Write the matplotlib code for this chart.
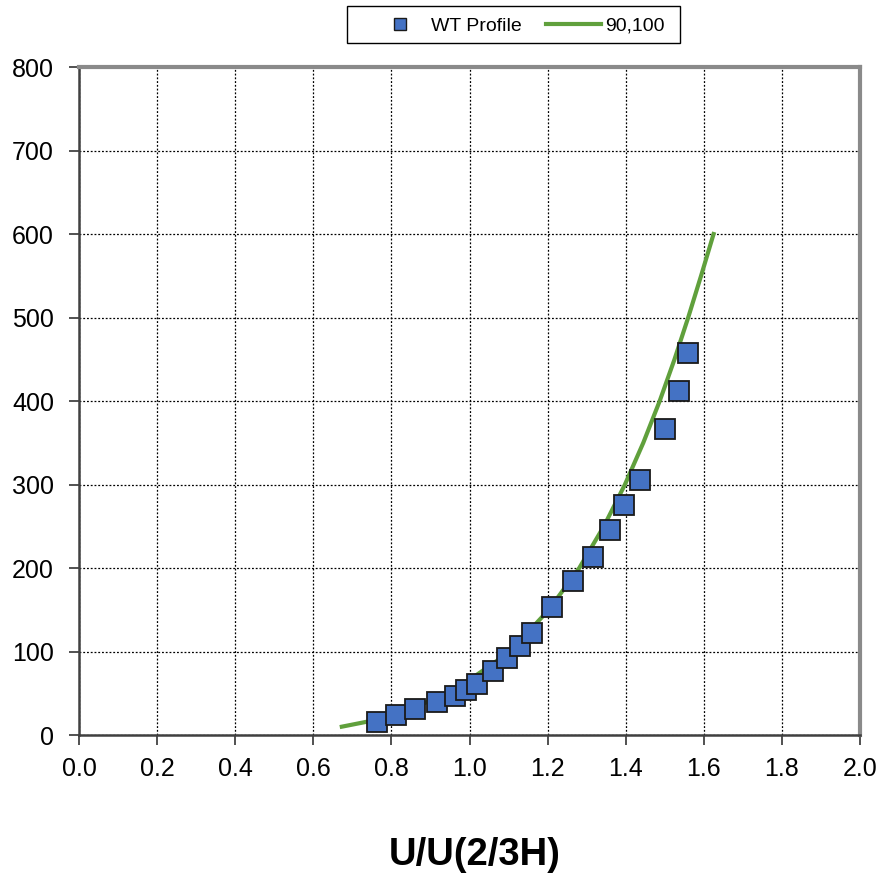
import matplotlib.pyplot as plt
from matplotlib.lines import Line2D
from matplotlib.patches import Rectangle

plt.rcParams['font.family'] = ['Liberation Sans', 'DejaVu Sans']

# wind tunnel profile points
wt_u = [0.762, 0.813, 0.860, 0.916, 0.962, 0.990, 1.020, 1.061, 1.095, 1.130,
        1.161, 1.212, 1.266, 1.315, 1.360, 1.396, 1.437, 1.501, 1.536, 1.560]
wt_z = [16, 24, 31, 39, 47, 54, 61, 77, 92, 107,
        122, 153, 184, 213, 245, 275, 305, 366, 412, 458]

# fitted curve
fit_z = [10, 20, 50, 100, 150, 200, 250, 300, 350, 400, 450, 500, 550, 600]
fit_u = [0.673, 0.781, 0.951, 1.104, 1.203, 1.281, 1.344, 1.398, 1.445,
         1.487, 1.525, 1.560, 1.593, 1.625]

xticks = [0.0, 0.2, 0.4, 0.6, 0.8, 1.0, 1.2, 1.4, 1.6, 1.8, 2.0]
yticks = [0, 100, 200, 300, 400, 500, 600, 700, 800]

fig = plt.figure(figsize=(8.9, 8.74), dpi=100)
ax = fig.add_axes([0.0888, 0.159, 0.8775, 0.7643])

green = '#60A03C'
blue = '#4472C4'

ax.plot(fit_u, fit_z, color=green, lw=3, zorder=3)
ax.plot(wt_u, wt_z, ls='none', marker='s', ms=14, mfc=blue, mec='#1a1a1a',
        mew=1.3, zorder=4)

ax.set_xlim(0, 2.0)
ax.set_ylim(0, 800)
ax.set_xticks(xticks)
ax.set_xticklabels(['%.1f' % v for v in xticks])
ax.set_yticks(yticks)
ax.tick_params(axis='both', direction='out', length=7, width=1.2,
               colors='#333333', labelcolor='black', labelsize=18)
ax.tick_params(axis='y', pad=11)
ax.tick_params(axis='x', pad=9)
ax.grid(True, color='black', ls=(0, (1.5, 1.5)), lw=0.9)
ax.set_axisbelow(True)

for s in ['left', 'bottom']:
    ax.spines[s].set_color('#404040')
    ax.spines[s].set_linewidth(1.8)
for s in ['top', 'right']:
    ax.spines[s].set_color('#8a8a8a')
    ax.spines[s].set_linewidth(3)

ax.set_xlabel('U/U(2/3H)', fontsize=27.5, fontweight='bold')
ax.xaxis.set_label_coords(0.506, -0.152)

# legend, frame drawn by hand so the padding looks like excel
handles = [Line2D([], [], ls='none', marker='s', ms=8, mfc=blue, mec='#1a1a1a', mew=1),
           Line2D([], [], color=green, lw=3)]
leg = fig.legend(handles, ['WT Profile', '90,100'], ncol=2, loc='center left',
                 bbox_to_anchor=(372 / 890, 1 - 26 / 874), fontsize=14,
                 frameon=False, handlelength=2.83, columnspacing=1.25,
                 handletextpad=0.2, borderpad=0, borderaxespad=0)
fig.patches.append(Rectangle((347 / 890, 1 - 43 / 874), 333 / 890, 37 / 874,
                             transform=fig.transFigure, fill=False,
                             ec='black', lw=1))

fig.savefig('out.png', dpi=100)
